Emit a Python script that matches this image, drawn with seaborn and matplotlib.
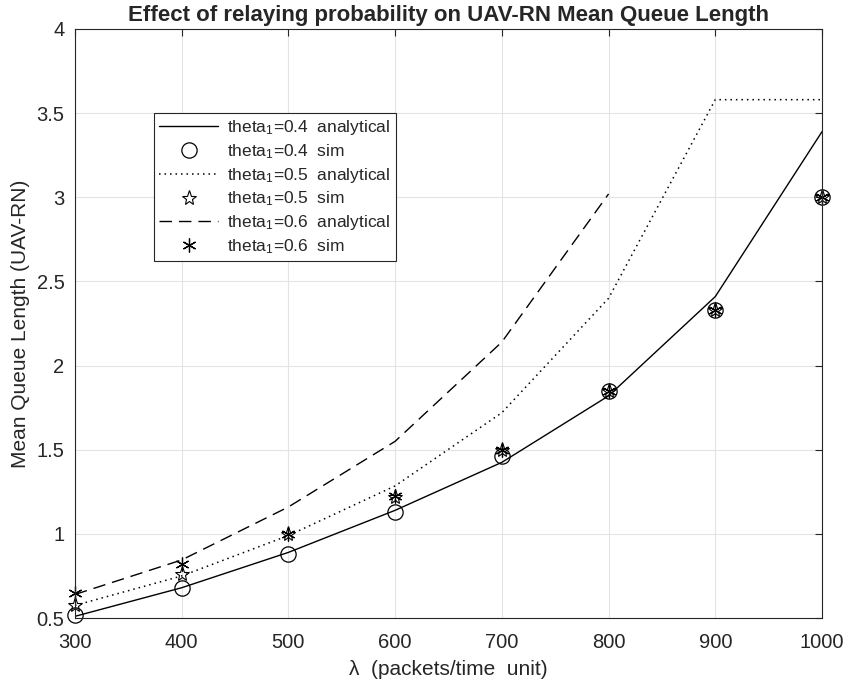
import numpy as np
import pandas as pd
import matplotlib
matplotlib.use('Agg')
import matplotlib.pyplot as plt
import seaborn as sns

# data
lam = [300, 400, 500, 600, 700, 800, 900, 1000]
ana_04 = [0.51, 0.68, 0.89, 1.14, 1.425, 1.82, 2.41, 3.39]
sim_04 = [0.52, 0.68, 0.88, 1.13, 1.46, 1.85, 2.33, 3.0]
ana_05 = [0.575, 0.75, 0.99, 1.285, 1.72, 2.40, 3.58, 3.58]
sim_05 = [0.58, 0.76, 1.0, 1.22, 1.50, 1.85, 2.33, 3.0]
ana_06 = [0.64, 0.845, 1.16, 1.55, 2.14, 3.02]   # stops at 800
sim_06 = [0.65, 0.82, 1.0, 1.225, 1.50, 1.85, 2.33, 3.0]

xticks = [300, 400, 500, 600, 700, 800, 900, 1000]
yticks = [0.5, 1, 1.5, 2, 2.5, 3, 3.5, 4]
ytick_labels = ['0.5', '1', '1.5', '2', '2.5', '3', '3.5', '4']

sns.set_style('whitegrid')
plt.rcParams['font.family'] = ['Liberation Sans', 'DejaVu Sans']
plt.rcParams['mathtext.fontset'] = 'custom'
plt.rcParams['mathtext.rm'] = 'Liberation Sans'
plt.rcParams['mathtext.it'] = 'Liberation Sans'

fig = plt.figure(figsize=(8.47, 6.87), dpi=100)
ax = fig.add_axes([0.0885, 0.1004, 0.882, 0.8574])

k = 'black'
sns.lineplot(x=lam, y=ana_04, color=k, lw=1.0, linestyle='-',
             label='theta$_1$=0.4  analytical', ax=ax)
sns.lineplot(x=lam, y=sim_04, color=k, linestyle='', marker='o', markersize=11,
             markerfacecolor='none', markeredgecolor=k, markeredgewidth=0.9,
             label='theta$_1$=0.4  sim', clip_on=False, ax=ax)
sns.lineplot(x=lam, y=ana_05, color=k, lw=1.1, linestyle=(0, (1, 2.6)),
             label='theta$_1$=0.5  analytical', ax=ax)
sns.lineplot(x=lam, y=sim_05, color=k, linestyle='', marker='*', markersize=11,
             markerfacecolor='none', markeredgecolor=k, markeredgewidth=0.8,
             label='theta$_1$=0.5  sim', clip_on=False, ax=ax)
sns.lineplot(x=lam[:len(ana_06)], y=ana_06, color=k, lw=1.0, linestyle=(0, (9, 5)),
             label='theta$_1$=0.6  analytical', ax=ax)
sns.lineplot(x=lam, y=sim_06, color=k, linestyle='', marker=(6, 2, 0), markersize=10,
             markeredgecolor=k, markeredgewidth=0.9,
             label='theta$_1$=0.6  sim', clip_on=False, ax=ax)

ax.set_xlim(300, 1000)
ax.set_ylim(0.5, 4)
ax.set_xticks(xticks)
ax.set_yticks(yticks)
ax.set_yticklabels(ytick_labels)
ax.tick_params(axis='both', direction='in', length=5, width=0.8, labelsize=14.5,
               top=True, right=True, colors='#262626', labelcolor='#262626')
ax.tick_params(axis='x', pad=11)
ax.tick_params(axis='y', pad=7.5)
ax.grid(True, color='#e3e3e3', lw=0.8)
for s in ax.spines.values():
    s.set_color('#262626')
    s.set_linewidth(0.8)

ax.set_xlabel('λ  (packets/time  unit)', fontsize=15, color='#262626')
ax.set_ylabel('Mean Queue Length (UAV-RN)', fontsize=15, color='#262626')
ax.xaxis.set_label_coords(0.5, -0.071)
ax.yaxis.set_label_coords(-0.06, 0.5)
ax.set_title('Effect of relaying probability on UAV-RN Mean Queue Length',
             fontsize=16, fontweight='bold', pad=6)

leg = ax.legend(loc='upper left', bbox_to_anchor=(0.106, 0.857), fontsize=12.5,
                handlelength=3.4, labelspacing=0.28, borderpad=0.3,
                handletextpad=0.5, fancybox=False, framealpha=1, borderaxespad=0)
leg.get_frame().set_edgecolor('#262626')
leg.get_frame().set_linewidth(0.8)

fig.savefig('out.png', dpi=100)
